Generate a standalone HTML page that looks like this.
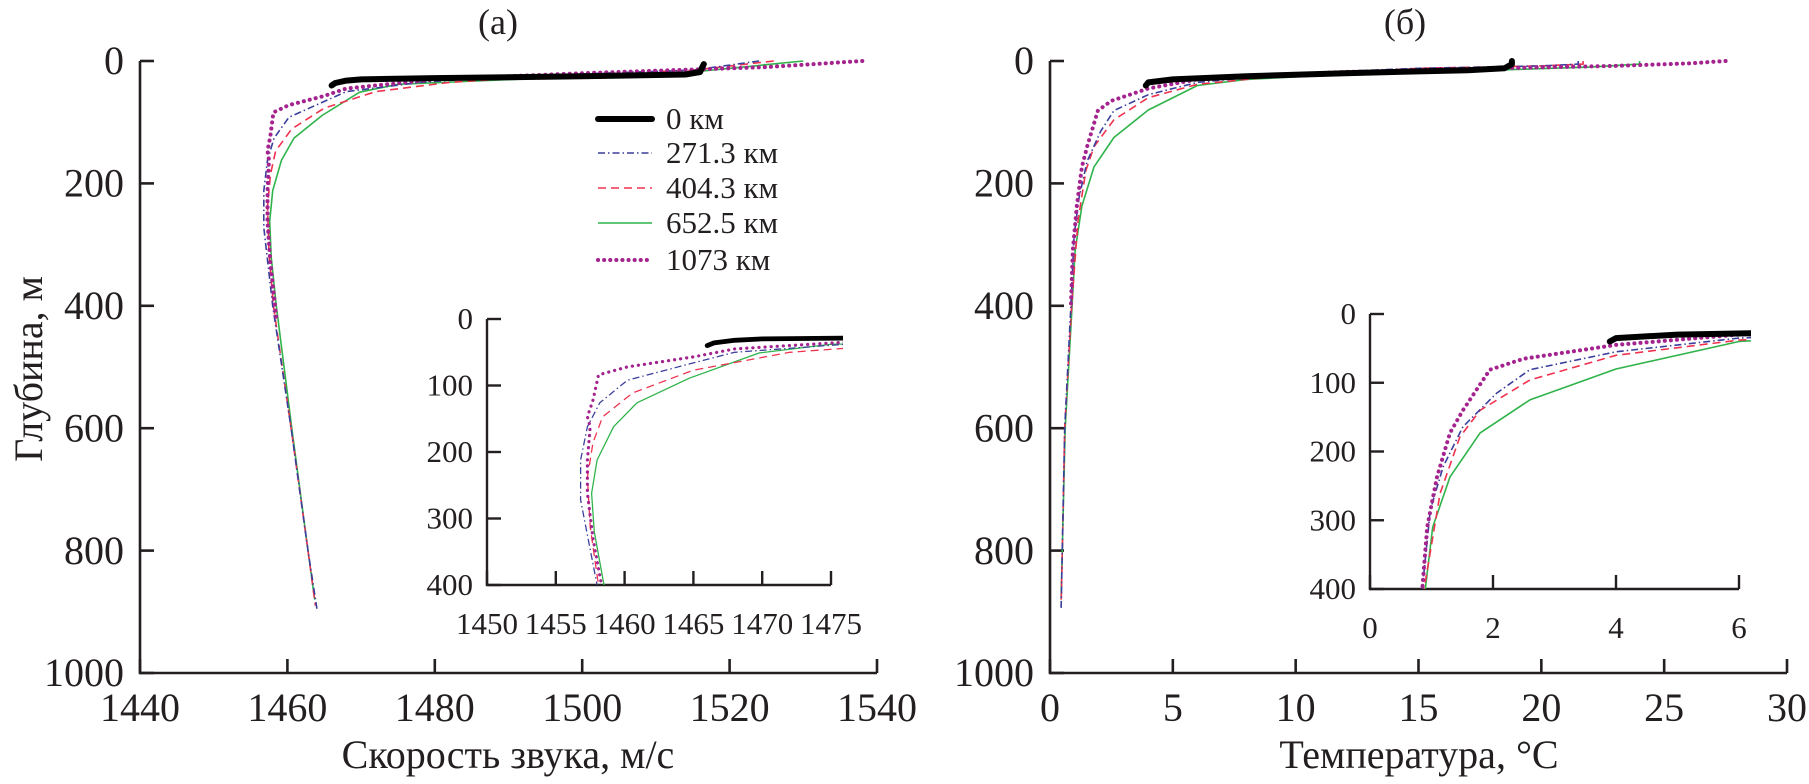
<!DOCTYPE html>
<html><head><meta charset="utf-8"><style>
html,body{margin:0;padding:0;background:#fff;width:1809px;height:784px;overflow:hidden}
svg{display:block;font-family:"Liberation Serif","Times New Roman","DejaVu Serif",serif;fill:#231f20}
svg text{font-family:"Liberation Serif","Times New Roman","DejaVu Serif",serif}
</style></head><body>
<svg id="chart" width="1809" height="784" viewBox="0 0 1809 784" xmlns="http://www.w3.org/2000/svg" font-family="Liberation Serif, serif">
<text x="498" y="34" font-size="36" text-anchor="middle">(а)</text>
<text x="1405" y="34" font-size="36" text-anchor="middle">(б)</text>
<text transform="translate(42,369) rotate(-90)" font-size="40" text-anchor="middle">Глубина, м</text>
<text x="508" y="768" font-size="40" text-anchor="middle">Скорость звука, м/с</text>
<text x="1419" y="768" font-size="40" text-anchor="middle">Температура, °С</text>
</svg>
<script>
// ---- data ----
const seriesNames = ["0 км","271.3 км","404.3 км","652.5 км","1073 км"];
const depthTicks = [0,200,400,600,800,1000];
const insetDepthTicks = [0,100,200,300,400];
const velTicks = [1440,1460,1480,1500,1520,1540];
const insetVelTicks = [1450,1455,1460,1465,1470,1475];
const tempTicks = [0,5,10,15,20,25,30];
const insetTempTicks = [0,2,4,6];
// sound speed profiles: depth (m) / speed (m/s)
const velDepth0 = [40,36,32,30,28,25,22,18,10,5];
const velVal0   = [1466,1466.5,1468,1470,1480,1500,1514,1516,1516.3,1516.5];
const velDepth1 = [0,15,25,35,50,66,92,126,162,212,272,400,600,800,895];
const velVal1   = [1524,1515,1490,1478,1468,1465,1460.2,1458.2,1457.3,1456.8,1456.8,1458,1460.5,1462.8,1464];
const velDepth2 = [0,15,25,35,50,77,111,147,186,238,313,400,600,800,890];
const velVal2   = [1526,1515,1495,1482,1472,1465,1460.6,1458.4,1457.7,1457.3,1457.5,1458.1,1460.5,1462.8,1463.8];
const velDepth3 = [0,18,28,38,51,89,126,162,212,262,320,400,600,800,880];
const velVal3   = [1530,1515,1495,1475,1469.8,1464.7,1460.9,1459.2,1458,1457.6,1457.8,1458.5,1460.6,1462.8,1463.7];
const velDepth4 = [0,10,20,30,45,57,72,84,122,147,162,212,262,330,420];
const velVal4   = [1538,1525,1500,1480,1468,1465,1460.2,1458.1,1457.7,1457.3,1457.5,1457.3,1457.3,1457.7,1458.5];
// temperature profiles: depth (m) / temperature (°C)
const tDepth0 = [40,35,30,25,20,15,12,5,0];
const tVal0   = [3.9,4,5,8,12,17,18.5,18.8,18.8];
const tDepth1 = [0,5,8,12,20,35,55,81,115,164,222,285,400,600,800,895];
const tVal1   = [21.5,21.5,20,15,10,6,4,2.6,2.06,1.51,1.19,0.98,0.85,0.6,0.5,0.45];
const tDepth2 = [0,5,8,12,22,38,60,96,140,179,261,400,600,800,890];
const tVal2   = [21.7,21.7,20,15,10,6,4,2.6,1.79,1.46,1.14,0.88,0.6,0.5,0.45];
const tDepth3 = [0,5,10,15,22,30,40,80,125,173,237,310,400,600,800,880];
const tVal3   = [24,24,22,18,12,8,6,4,2.6,1.79,1.3,1.02,0.9,0.62,0.5,0.45];
const tDepth4 = [0,4,8,12,18,25,30,45,65,81,140,173,237,310,400];
const tVal4   = [27.5,26,23,18,12,8,6,4,2.5,1.95,1.51,1.3,1.09,0.93,0.85];

const NS="http://www.w3.org/2000/svg";
const svg=document.getElementById('chart');
const FF="Liberation Serif, Times New Roman, DejaVu Serif, serif";
const styles=[
 {stroke:"#000",w:6,dash:"",cap:"round"},
 {stroke:"#3b3f9c",w:1.6,dash:"7 3 1.5 3",cap:"butt"},
 {stroke:"#f0324f",w:1.6,dash:"8 5",cap:"butt"},
 {stroke:"#2fb34a",w:1.6,dash:"",cap:"butt"},
 {stroke:"#a4238e",w:4,dash:"0.1 6",cap:"round"}];
const seriesKeys=["0km","271km","404km","652km","1073km"];

function mk(tag,attrs,parent){const e=document.createElementNS(NS,tag);for(const k in attrs)e.setAttribute(k,attrs[k]);(parent||svg).appendChild(e);return e;}

function axes(p,name){
  const xs=v=>p.x0+(v-p.xmin)/(p.xmax-p.xmin)*(p.x1-p.x0);
  const ys=d=>p.y0+(d-p.dmin)/(p.dmax-p.dmin)*(p.y1-p.y0);
  const g=mk('g',{});
  
  
  const ax=mk('path',{d:`M${p.x0},${p.y0}V${p.y1}H${p.x1}`,fill:"none",stroke:"#231f20","stroke-width":p.aw},g);
  
  
  p.yt.forEach(d=>{
    const y=ys(d);
    mk('line',{x1:p.x0,x2:p.x0+p.tl,y1:y,y2:y,stroke:"#231f20","stroke-width":p.aw},g);
    const t=mk('text',{x:p.x0-p.lg,y:y+p.fs*0.33,'font-size':p.fs,'text-anchor':'end','font-family':FF},g);
    
    
    t.textContent=d;
  });
  p.xt.forEach(v=>{
    const x=xs(v);
    mk('line',{x1:x,x2:x,y1:p.y1,y2:p.y1-p.tl,stroke:"#231f20","stroke-width":p.aw},g);
    const t=mk('text',{x:x,y:p.xly,'font-size':p.fs,'text-anchor':'middle','font-family':FF},g);
    
    
    t.textContent=v;
  });
  return {xs,ys,g};
}

function draw(p,name,depths,vals){
  const a=axes(p,name);
  const cid='clip-'+name;
  const cp=mk('clipPath',{id:cid},svg);
  mk('rect',{x:p.x0,y:p.y0-12,width:p.x1-p.x0+12,height:p.y1-p.y0+12},cp);
  const order=[3,2,1,4,0];
  order.forEach(i=>{
    const pts=depths[i].map((d,k)=>a.xs(vals[i][k]).toFixed(1)+","+a.ys(d).toFixed(1)).join(" ");
    const s=styles[i];
    const pl=mk('polyline',{points:pts,fill:"none",stroke:s.stroke,"stroke-width":s.w*(p.sc||1),"stroke-dasharray":s.dash,"stroke-linecap":s.cap,"stroke-linejoin":"round","clip-path":`url(#${cid})`});
    
    
  });
}

const vD=[velDepth0,velDepth1,velDepth2,velDepth3,velDepth4], vV=[velVal0,velVal1,velVal2,velVal3,velVal4];
const tD=[tDepth0,tDepth1,tDepth2,tDepth3,tDepth4], tV=[tVal0,tVal1,tVal2,tVal3,tVal4];

draw({x0:140,x1:877,y0:61,y1:673,xmin:1440,xmax:1540,dmin:0,dmax:1000,yt:depthTicks,xt:velTicks,tl:14,lg:16,fs:40,xly:721,aw:2.6},'panel-a',vD,vV);
draw({x0:1050,x1:1787,y0:61,y1:673,xmin:0,xmax:30,dmin:0,dmax:1000,yt:depthTicks,xt:tempTicks,tl:14,lg:16,fs:40,xly:721,aw:2.6},'panel-b',tD,tV);
draw({x0:487,x1:831,y0:319,y1:585,xmin:1450,xmax:1475,dmin:0,dmax:400,yt:insetDepthTicks,xt:insetVelTicks,tl:14,lg:14,fs:31,xly:634,aw:2.4,sc:0.8},'inset-a',vD,vV);
draw({x0:1370,x1:1739,y0:314,y1:589,xmin:0,xmax:6,dmin:0,dmax:400,yt:insetDepthTicks,xt:insetTempTicks,tl:14,lg:14,fs:31,xly:638,aw:2.4,sc:1},'inset-b',tD,tV);

// legend
const lg=mk('g',{});


const rowsY=[119,153,188,223,260];
seriesNames.forEach((n,i)=>{
  const s=styles[i];
  const e=mk('g',{},lg);
  
  
  mk('line',{x1:598,x2:652,y1:rowsY[i],y2:rowsY[i],stroke:s.stroke,"stroke-width":s.w,"stroke-dasharray":s.dash,"stroke-linecap":s.cap},e);
  const t=mk('text',{x:666,y:rowsY[i]+10,'font-size':31,'font-family':FF},e);
  t.textContent=n;
});
</script>
</body></html>
